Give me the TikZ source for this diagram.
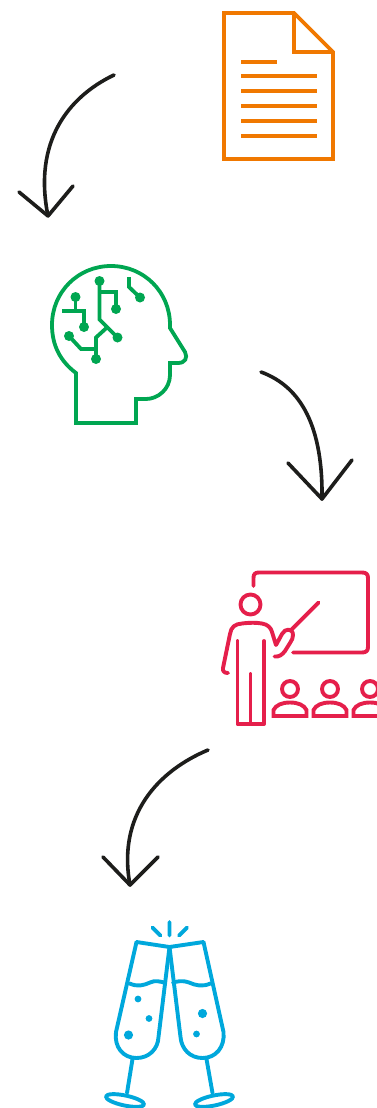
\documentclass[tikz,border=0pt]{standalone}
\definecolor{docorange}{HTML}{F07800}
\definecolor{brainGreen}{HTML}{00A651}
\definecolor{classRed}{HTML}{E51F4B}
\definecolor{toastBlue}{HTML}{00A8DC}
\definecolor{curveBlack}{HTML}{1D1D1B}
\begin{document}
\begin{tikzpicture}[x=1pt,y=-1pt,line join=miter,
	curve/.style={curveBlack,line width=3.6pt,line cap=round,line join=round},
	docline/.style={docorange,line width=3.7pt},
	brainline/.style={brainGreen,line width=3.8pt},
	classline/.style={classRed,line width=3.9pt,line cap=round,line join=round},
	toastline/.style={toastBlue,line width=3.9pt,line cap=round,line join=round}]
	\useasboundingbox (0,0) rectangle (376,1108);
	% curved arrows
	\coordinate (a1) at (114,75); \coordinate (t1) at (48,216);
	\coordinate (a2) at (261,372); \coordinate (t2) at (322,499);
	\coordinate (a3) at (208,750); \coordinate (t3) at (130,885);
	\draw[curve] (a1) .. controls (68,97) and (33,142) .. (t1);
	\draw[curve] (19,192)--(t1)--(73,186);
	\draw[curve] (a2) .. controls (302,387) and (323,428) .. (t2);
	\draw[curve] (288,463)--(t2)--(352,460);
	\draw[curve] (a3) .. controls (158,771) and (117,815) .. (t3);
	\draw[curve] (103,857)--(t3)--(158,857);
	% document
	\draw[docline] (224,13)--(294,13)--(333,52)--(333,159)--(224,159)--cycle;
	\draw[docline] (294,13)--(294,52)--(333,52);
	\draw[docline] (241,62)--(277,62);
	\foreach \y in {76,91,106,121,136}
		\draw[docline] (241,\y)--(317,\y);
	% head
	\draw[brainline] (76,423)--(76,373) .. controls (60,361) and (52,345) .. (52,325)
		.. controls (52,292) and (78,266) .. (111,266)
		.. controls (144,266) and (170,292) .. (170,325)--(170,328)--(185,352)
		.. controls (188,358) and (185,363) .. (178,363)--(170,363)--(170,375)
		.. controls (170,389) and (158,399) .. (146,399)--(136,399)--(136,423)--cycle;
	\draw[brainline] (99.5,281)--(99.5,319.5)--(117.5,337.5);
	\draw[brainline] (99.5,292)--(116,292)--(116,309);
	\draw[brainline] (129,277)--(129,287)--(140,297.5);
	\draw[brainline] (75.5,297)--(75.5,311);
	\draw[brainline] (62,311)--(84,311)--(84,327);
	\draw[brainline] (69,336)--(81,349)--(96,349);
	\draw[brainline] (96,359)--(96,337.5)--(107.5,327);
	\foreach \p in {(99.5,281),(117.5,337.5),(116,309),(140,297.5),(75.5,297),(84,327),(69,336),(96,359)}
		\fill[brainGreen] \p circle (5);
	% teacher and board
	\draw[classline] (253.5,586) -- (253.5,578) .. controls (253.5,574) and (255,572.5) .. (259,572.5)
		-- (362,572.5) .. controls (366,572.5) and (368,574) .. (368,578) -- (368,647)
		.. controls (368,651) and (366,652.5) .. (362,652.5) -- (293,652.5);
	\draw[classline] (250.5,604.5) circle (10);
	\draw[classline] (228,673) .. controls (224,673) and (222.5,671) .. (223,668) -- (230,634)
		.. controls (231,627) and (235,624) .. (242,623.5) .. controls (250,622.5) and (256,622.5) .. (262,623.5)
		.. controls (268,624.5) and (271,628) .. (272,632) -- (276,645) -- (282,634)
		.. controls (285,628) and (293,628) .. (293,635) .. controls (293,638) and (292,640) .. (290,643)
		-- (285,651) .. controls (282,655) and (279,657) .. (274.5,656.5);
	\draw[classline] (291,630)--(318.5,602.5);
	\draw[classline] (237.5,641)--(237.5,724)--(264,724)--(264,641);
	\draw[classline] (250.5,674)--(250.5,724);
	\foreach \x in {290,330,370} {
		\draw[classline] (\x,689) circle (8);
		\draw[classline,line cap=butt,line join=miter] (\x-16.5,716)--(\x+16.5,716)--(\x+16.5,710)
			.. controls (\x+14,705) and (\x+8,702.5) .. (\x,702.5)
			.. controls (\x-8,702.5) and (\x-14,705) .. (\x-16.5,710)--cycle;
	}
	% flutes
	\draw[toastline] (169.5,922)--(169.5,935.5) (152.5,927.5)--(160.5,935.5) (187,927.5)--(179,935.5);
	\draw[toastline] (136.5,942)--(169.5,947)--(203.5,942);
	\draw[toastline] (136.5,942)--(116,1032) .. controls (114,1047) and (123,1058) .. (136.5,1058)
		.. controls (149,1058) and (158,1049) .. (158.5,1037)--(169.5,947);
	\draw[toastline] (203.5,942)--(223.5,1032) .. controls (225,1047) and (216,1058) .. (202.5,1058)
		.. controls (190,1058) and (181.5,1049) .. (180.5,1037)--(169.5,947);
	\draw[toastline] (129.5,983.5) .. controls (138,987) and (143,985.5) .. (150,982.5) .. controls (155,980) and (160,981.5) .. (164,982.5);
	\draw[toastline] (173,982.5) .. controls (177,981.5) and (182,980) .. (189,982.5) .. controls (196,985.5) and (202,987) .. (210.5,983.5);
	\foreach \p/\r in {(138,999)/3.4,(149,1018.5)/3.4,(128.5,1035)/4.6,(202.5,1013.5)/4.6,(196.5,1034)/3.4}
		\fill[toastBlue] \p circle (\r);
	\draw[toastline] (132.5,1059)--(127,1093);
	\draw[toastline] (206.5,1059)--(212.5,1093);
	\draw[toastline] (125,1100.5) ellipse[x radius=19.5,y radius=5,rotate=-12];
	\draw[toastline] (214,1100.5) ellipse[x radius=19.5,y radius=5,rotate=12];
\end{tikzpicture}
\end{document}
